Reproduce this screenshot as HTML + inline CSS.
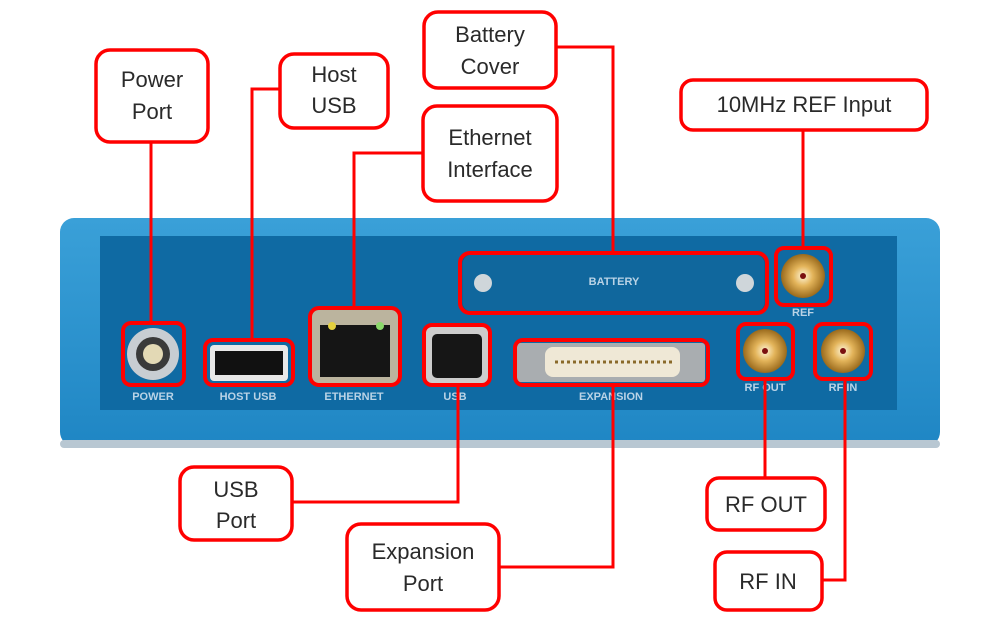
<!DOCTYPE html>
<html><head><style>
body{margin:0;background:#fff;width:1000px;height:633px;overflow:hidden}
svg{display:block}
.t{font-family:"Liberation Sans",sans-serif;font-size:22px;fill:#2a2a2a;text-anchor:middle}
.s{font-family:"Liberation Sans",sans-serif;font-size:11px;font-weight:bold;fill:#b9d3e6;text-anchor:middle}
.b{fill:#fff;stroke:#f00;stroke-width:3.5}
.h{fill:none;stroke:#f00;stroke-width:4}
.l{fill:none;stroke:#f00;stroke-width:3}
</style></head><body>
<svg width="1000" height="633" viewBox="0 0 1000 633">
<defs>
<radialGradient id="g" cx="50%" cy="50%" r="50%"><stop offset="0" stop-color="#fff6d8"/><stop offset=".45" stop-color="#e3b45a"/><stop offset="1" stop-color="#9a6a1c"/></radialGradient>
<linearGradient id="fr" x1="0" y1="0" x2="0" y2="1"><stop offset="0" stop-color="#3aa0d8"/><stop offset="1" stop-color="#1f86c4"/></linearGradient>
</defs>
<!-- device -->
<rect x="60" y="218" width="880" height="228" rx="14" fill="url(#fr)"/>
<rect x="60" y="440" width="880" height="8" rx="4" fill="#b8c7d2"/>
<rect x="100" y="236" width="797" height="174" fill="#0f6aa3"/>
<!-- battery plate -->
<rect x="462" y="254" width="303" height="58" rx="10" fill="#10679d" stroke="#0b5786"/>
<circle cx="483" cy="283" r="9" fill="#cfd6da"/><circle cx="745" cy="283" r="9" fill="#cfd6da"/>
<text class="s" x="614" y="285">BATTERY</text>
<!-- power -->
<circle cx="153" cy="354" r="26" fill="#c8cdd2"/><circle cx="153" cy="354" r="17" fill="#3a3a3a"/>
<circle cx="153" cy="354" r="10" fill="#e3d9b5"/>
<text class="s" x="153" y="400">POWER</text>
<!-- host usb -->
<rect x="210" y="345" width="78" height="36" rx="4" fill="#e8e8e8"/><rect x="215" y="351" width="68" height="24" fill="#111"/>
<text class="s" x="248" y="400">HOST USB</text>
<!-- ethernet -->
<rect x="312" y="310" width="86" height="73" rx="6" fill="#bbb49e"/><rect x="320" y="325" width="70" height="52" fill="#151515"/>
<circle cx="332" cy="326" r="4" fill="#e3d040"/><circle cx="380" cy="326" r="4" fill="#8ad86a"/>
<text class="s" x="354" y="400">ETHERNET</text>
<!-- usb b -->
<rect x="426" y="327" width="62" height="56" rx="4" fill="#ccc"/><rect x="432" y="334" width="50" height="44" rx="5" fill="#161616"/>
<text class="s" x="455" y="400">USB</text>
<!-- expansion -->
<rect x="517" y="343" width="188" height="39" rx="3" fill="#a9adb0"/><rect x="545" y="347" width="135" height="30" rx="8" fill="#efe8d6"/>
<line x1="555" y1="362" x2="672" y2="362" stroke="#8a6a2a" stroke-width="3" stroke-dasharray="3 3"/>
<text class="s" x="611" y="400">EXPANSION</text>
<!-- rf -->
<circle cx="803" cy="276" r="22" fill="url(#g)"/><circle cx="803" cy="276" r="3" fill="#7a1010"/>
<text class="s" x="803" y="316">REF</text>
<circle cx="765" cy="351" r="22" fill="url(#g)"/><circle cx="765" cy="351" r="3" fill="#7a1010"/>
<text class="s" x="765" y="391">RF OUT</text>
<circle cx="843" cy="351" r="22" fill="url(#g)"/><circle cx="843" cy="351" r="3" fill="#7a1010"/>
<text class="s" x="843" y="391">RF IN</text>
<!-- highlight boxes -->
<rect class="h" x="123" y="323" width="61" height="62" rx="8"/>
<rect class="h" x="205" y="340" width="88" height="45" rx="8"/>
<rect class="h" x="310" y="308" width="90" height="77" rx="9"/>
<rect class="h" x="424" y="325" width="66" height="60" rx="8"/>
<rect class="h" x="460" y="253" width="307" height="60" rx="10"/>
<rect class="h" x="515" y="340" width="193" height="45" rx="8"/>
<rect class="h" x="776" y="248" width="55" height="57" rx="8"/>
<rect class="h" x="738" y="324" width="55" height="55" rx="8"/>
<rect class="h" x="815" y="324" width="56" height="55" rx="8"/>
<!-- leader lines -->
<polyline class="l" points="151,142 151,323"/>
<polyline class="l" points="280,89 252,89 252,340"/>
<polyline class="l" points="423,153 354,153 354,308"/>
<polyline class="l" points="556,47 613,47 613,253"/>
<polyline class="l" points="803,130 803,248"/>
<polyline class="l" points="292,502 458,502 458,385"/>
<polyline class="l" points="499,567 613,567 613,385"/>
<polyline class="l" points="765,478 765,379"/>
<polyline class="l" points="822,580 845,580 845,379"/>
<!-- label boxes -->
<rect class="b" x="96" y="50" width="112" height="92" rx="14"/>
<text class="t" x="152" y="87">Power</text><text class="t" x="152" y="119">Port</text>
<rect class="b" x="280" y="54" width="108" height="74" rx="14"/>
<text class="t" x="334" y="82">Host</text><text class="t" x="334" y="113">USB</text>
<rect class="b" x="424" y="12" width="132" height="76" rx="14"/>
<text class="t" x="490" y="42">Battery</text><text class="t" x="490" y="74">Cover</text>
<rect class="b" x="423" y="106" width="134" height="95" rx="14"/>
<text class="t" x="490" y="145">Ethernet</text><text class="t" x="490" y="177">Interface</text>
<rect class="b" x="681" y="80" width="246" height="50" rx="12"/>
<text class="t" x="804" y="112">10MHz REF Input</text>
<rect class="b" x="180" y="467" width="112" height="73" rx="14"/>
<text class="t" x="236" y="497">USB</text><text class="t" x="236" y="528">Port</text>
<rect class="b" x="347" y="524" width="152" height="86" rx="14"/>
<text class="t" x="423" y="559">Expansion</text><text class="t" x="423" y="591">Port</text>
<rect class="b" x="707" y="478" width="118" height="52" rx="12"/>
<text class="t" x="766" y="512">RF OUT</text>
<rect class="b" x="715" y="552" width="107" height="58" rx="12"/>
<text class="t" x="768" y="589">RF IN</text>
</svg>
</body></html>
